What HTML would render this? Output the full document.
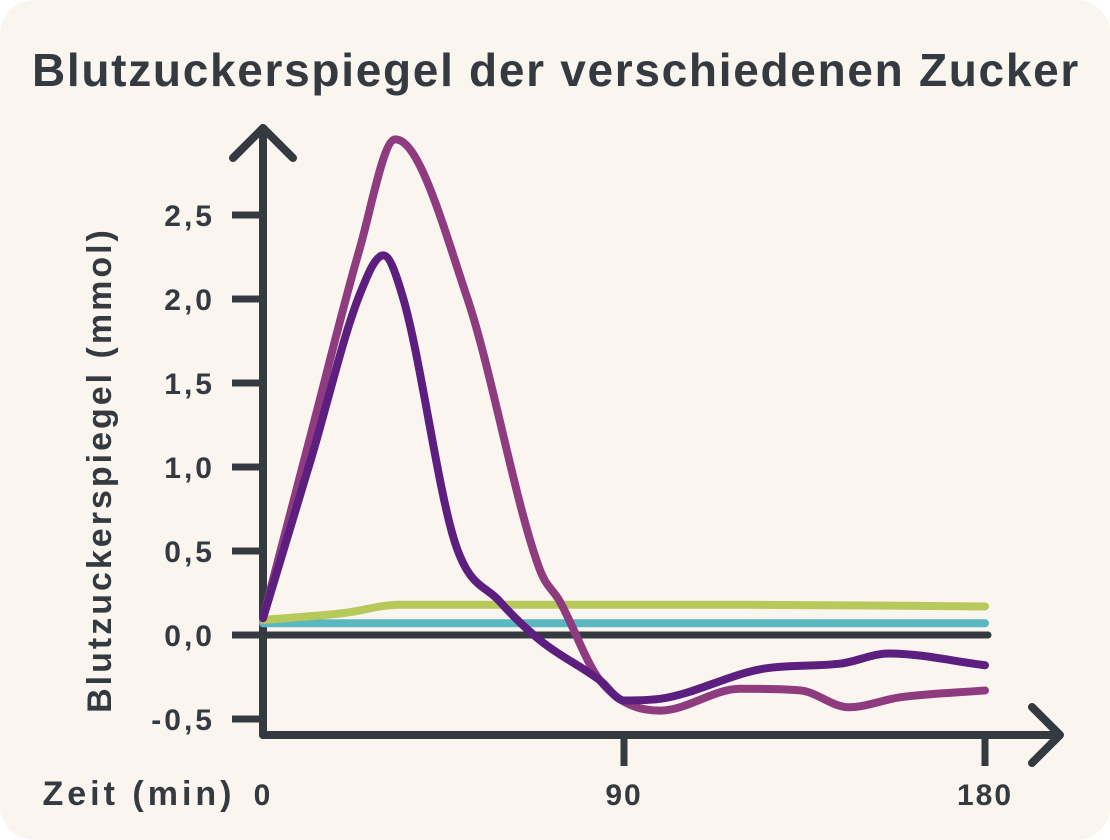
<!DOCTYPE html>
<html><head><meta charset="utf-8"><style>
html,body{margin:0;padding:0;background:#fff;}
#card{position:absolute;left:0;top:0;width:1110px;height:840px;background:#faf5ef;border-radius:34px;overflow:hidden;}
text{font-family:"Liberation Sans",sans-serif;font-weight:bold;fill:#343a40;}
</style></head><body>
<div id="card">
<svg id="chart" width="1110" height="840">
<text x="556" y="86" font-size="46" letter-spacing="1.7" text-anchor="middle">Blutzuckerspiegel der verschiedenen Zucker</text>
<text transform="translate(111,470) rotate(-90)" font-size="34" letter-spacing="3" text-anchor="middle">Blutzuckerspiegel (mmol)</text>
<text x="139" y="805" font-size="34" letter-spacing="4" text-anchor="middle">Zeit (min)</text>
<g id="axes"></g>
<g id="series"></g>
</svg>
</div>
<script>
const yTicks=[-0.5,0,0.5,1,1.5,2,2.5];
const yTickLabels=["-0,5","0,0","0,5","1,0","1,5","2,0","2,5"];
const xTicks=[0,90,180];
const xTickLabels=["0","90","180"];
const seriesColors=["#5cb8c0","#b8c95c","#8e3b80","#5c1f7f"];
const tealX=[0,180];
const tealY=[0.07,0.07];
const greenX=[0,20,34,60,120,180];
const greenY=[0.09,0.13,0.18,0.18,0.18,0.17];
const magentaX=[0,12,24,33,51,69,74,84,99,119,134,146,159,180];
const magentaY=[0.1,1.2,2.29,2.95,2.0,0.39,0.2,-0.27,-0.45,-0.32,-0.33,-0.43,-0.37,-0.33];
const purpleX=[0,12,24,30,35,48,59,69,84,90,99,125,144,156,180];
const purpleY=[0.1,1.05,2.02,2.26,2.0,0.54,0.2,-0.03,-0.27,-0.39,-0.38,-0.2,-0.17,-0.11,-0.18];

const xs=m=>263+m*(985-263)/180;
const ys=v=>635-v*168;
const NS="http://www.w3.org/2000/svg";
const axes=document.getElementById('axes'), ser=document.getElementById('series');
function mk(tag,attrs,parent){const e=document.createElementNS(NS,tag);for(const k in attrs)e.setAttribute(k,attrs[k]);parent.appendChild(e);return e;}
const dark="#343a40";
let e=mk('path',{d:`M263,735 L263,128 M233,158 L263,128 L293,158`,stroke:dark,'stroke-width':8,fill:'none','stroke-linecap':'round','stroke-linejoin':'round'},axes);


e=mk('path',{d:`M263,735 L1060,735 M1032,707 L1060,735 L1032,763`,stroke:dark,'stroke-width':8,fill:'none','stroke-linecap':'round','stroke-linejoin':'round'},axes);


e=mk('line',{x1:263,x2:988,y1:ys(0),y2:ys(0),stroke:dark,'stroke-width':7,'stroke-linecap':'round'},axes);


yTicks.forEach((v,i)=>{
  const t=mk('line',{x1:232,x2:263,y1:ys(v),y2:ys(v),stroke:dark,'stroke-width':7},axes);
  
  
  const l=mk('text',{x:215,y:ys(v)+11,'font-size':30,'letter-spacing':3,'text-anchor':'end'},axes);l.textContent=yTickLabels[i];
  
  
});
xTicks.forEach((m,i)=>{
  if(m>0){const t=mk('line',{x1:xs(m),x2:xs(m),y1:735,y2:766,stroke:dark,'stroke-width':7},axes);
  
  }
  const l=mk('text',{x:xs(m),y:805,'font-size':30,'letter-spacing':2,'text-anchor':'middle'},axes);l.textContent=xTickLabels[i];
  
  
});
function monotone(X,Y){
  const px=X.map(xs),py=Y.map(ys),n=px.length;
  if(n<2)return '';
  const d=[],m=new Array(n);
  for(let i=0;i<n-1;i++)d.push((py[i+1]-py[i])/(px[i+1]-px[i]));
  m[0]=d[0];m[n-1]=d[n-2];
  for(let i=1;i<n-1;i++){m[i]=(d[i-1]*d[i]<=0)?0:(d[i-1]+d[i])/2;}
  for(let i=0;i<n-1;i++){
    if(d[i]===0){m[i]=0;m[i+1]=0;continue;}
    const a=m[i]/d[i],b=m[i+1]/d[i],s=a*a+b*b;
    if(s>9){const t=3/Math.sqrt(s);m[i]=t*a*d[i];m[i+1]=t*b*d[i];}
  }
  let p=`M${px[0]},${py[0]}`;
  for(let i=0;i<n-1;i++){
    const h=(px[i+1]-px[i])/3;
    p+=` C${px[i]+h},${py[i]+m[i]*h} ${px[i+1]-h},${py[i+1]-m[i+1]*h} ${px[i+1]},${py[i+1]}`;
  }
  return p;
}
const all=[[tealX,tealY,'teal-line'],[greenX,greenY,'green-line'],[magentaX,magentaY,'magenta-line'],[purpleX,purpleY,'purple-line']];
all.forEach((s,i)=>{
  const p=mk('path',{d:monotone(s[0],s[1]),stroke:seriesColors[i],'stroke-width':8,fill:'none','stroke-linecap':'round','stroke-linejoin':'round'},ser);
  
  
});
</script>
</body></html>
